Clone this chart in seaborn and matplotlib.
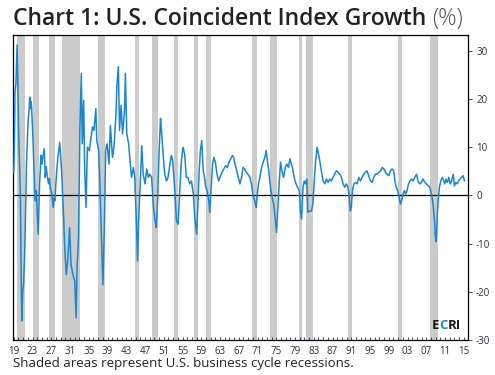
import pandas as pd
import seaborn as sns
import matplotlib.pyplot as plt

# Coincident index growth, %
years = [
    1919.0, 1919.15, 1919.25, 1919.45, 1919.7, 1919.85, 1920.05, 1920.4, 1920.55, 1920.7,
    1920.9, 1921.1, 1921.35, 1921.7, 1922.05, 1922.2, 1922.4, 1922.55, 1922.65, 1922.8,
    1923.1, 1923.4, 1923.6, 1923.8, 1924.2, 1924.5, 1924.8, 1925.0, 1925.2, 1925.5,
    1925.7, 1925.9, 1926.1, 1926.4, 1926.6, 1926.8, 1927.1, 1927.4, 1927.6, 1927.75,
    1928.1, 1928.4, 1928.8, 1929.0, 1929.2, 1929.6, 1929.9, 1930.2, 1930.5, 1930.9,
    1931.2, 1931.6, 1932.0, 1932.3, 1932.5, 1932.65, 1932.8, 1933.1, 1933.4, 1933.6,
    1933.9, 1934.1, 1934.4, 1934.7, 1935.1, 1935.4, 1935.8, 1936.1, 1936.5, 1936.7,
    1937.1, 1937.35, 1937.7, 1938.0, 1938.3, 1938.6, 1938.9, 1939.3, 1939.6, 1940.05,
    1940.4, 1940.8, 1941.0, 1941.3, 1941.55, 1941.9, 1942.2, 1942.6, 1942.8, 1943.1,
    1943.5, 1943.8, 1944.1, 1944.5, 1944.8, 1945.1, 1945.4, 1945.65, 1946.0, 1946.3,
    1946.6, 1947.0, 1947.35, 1947.7, 1948.0, 1948.4, 1948.8, 1949.15, 1949.4, 1949.7,
    1950.0, 1950.3, 1950.5, 1950.9, 1951.2, 1951.6, 1951.9, 1952.3, 1952.6, 1952.9,
    1953.35, 1953.7, 1954.05, 1954.4, 1954.75, 1955.1, 1955.45, 1955.8, 1956.15, 1956.5,
    1956.9, 1957.3, 1957.6, 1958.0, 1958.25, 1958.55, 1958.8, 1959.1, 1959.4, 1959.7,
    1959.95, 1960.25, 1960.6, 1960.8, 1961.1, 1961.4, 1961.7, 1962.0, 1962.35, 1962.7,
    1963.1, 1963.45, 1963.8, 1964.2, 1964.55, 1964.9, 1965.3, 1965.65, 1965.9, 1966.2,
    1966.55, 1966.9, 1967.25, 1967.6, 1967.9, 1968.25, 1968.6, 1968.95, 1969.35, 1969.7,
    1970.05, 1970.4, 1970.7, 1970.95, 1971.2, 1971.5, 1971.85, 1972.2, 1972.55, 1972.85,
    1973.1, 1973.4, 1973.75, 1974.1, 1974.45, 1974.75, 1975.05, 1975.3, 1975.6, 1975.9,
    1976.2, 1976.55, 1976.9, 1977.25, 1977.6, 1977.9, 1978.2, 1978.45, 1978.8, 1979.2,
    1979.55, 1979.9, 1980.15, 1980.4, 1980.7, 1980.95, 1981.2, 1981.5, 1981.75, 1982.2,
    1982.5, 1982.8, 1983.1, 1983.4, 1983.7, 1984.0, 1984.3, 1984.6, 1985.0, 1985.35,
    1985.7, 1986.05, 1986.4, 1986.75, 1987.1, 1987.45, 1987.8, 1988.2, 1988.55, 1988.9,
    1989.25, 1989.6, 1989.95, 1990.3, 1990.5, 1990.8, 1991.0, 1991.25, 1991.55, 1991.9,
    1992.25, 1992.6, 1992.95, 1993.3, 1993.65, 1994.0, 1994.35, 1994.7, 1995.1, 1995.45,
    1995.8, 1996.15, 1996.5, 1996.9, 1997.25, 1997.6, 1997.95, 1998.3, 1998.65, 1999.0,
    1999.35, 1999.7, 2000.05, 2000.35, 2000.6, 2000.9, 2001.2, 2001.5, 2001.75, 2002.05,
    2002.3, 2002.6, 2002.9, 2003.2, 2003.5, 2003.85, 2004.2, 2004.55, 2004.9, 2005.25,
    2005.6, 2005.95, 2006.3, 2006.7, 2007.05, 2007.4, 2007.75, 2008.1, 2008.45, 2008.75,
    2008.95, 2009.1, 2009.3, 2009.5, 2009.8, 2010.1, 2010.4, 2010.7, 2010.95, 2011.2,
    2011.5, 2011.8, 2012.1, 2012.4, 2012.75, 2013.0, 2013.3, 2013.6, 2013.9, 2014.2,
    2014.5, 2014.85, 2015.15,
]
growth = [
    4.8, 12, 21.5, 23, 31.2, 24, 12, 0.3, -15, -26,
    -20, -18, -11, 6.5, 15.5, 17, 20.4, 18, 19.5, 18.3,
    11.4, 3, -1.1, 1, -8, 2.4, 8.3, 6.5, 8, 9.7,
    3.75, 6, 4.4, 2.4, 3.5, 1.7, 0.3, -2.5, -0.5, -1.1,
    4.4, 7.9, 11, 8, 5.1, -3.9, -11.5, -16.4, -13.6, -6.7,
    -14.3, -16.4, -17.8, -25.4, -14.3, -12, -8.75, 13.5, 25.3, 10.7,
    19.7, 6.5, -2.5, 10, 9.3, 11.4, 14.2, 13.5, 18, 11.4,
    9.3, 3, -8.75, -18.5, -7.4, 9.3, 10.7, 6.5, 14.5, 7.9,
    10.3, 16.9, 22.8, 26.7, 13.5, 18.7, 12.8, 17.3, 25.3, 12.8,
    10.7, 7.2, 3.75, 5.8, 3.75, -3.9, -13.6, -4.6, 3, 10.3,
    4.4, 2.4, 5.5, 3.75, 4.4, 3.75, -2.5, -5.3, -6.7, -0.4,
    9.3, 16.0, 13.5, 7.9, 4.4, 3, 3.75, 6.5, 8.3, 7.2,
    1, -5.3, -6, 1, 7.2, 10, 8.6, 3.75, 3.75, 2.4,
    3, 0.3, -4.6, -8, -2.5, 5.1, 9.3, 11.4, 5.1, 3.75,
    1.7, 1, -1.1, -3.5, 1.7, 6.5, 7.9, 6.9, 4.4, 3,
    4.1, 4.8, 5.5, 6.2, 5.8, 6.9, 7.6, 8.3, 7.9, 6.5,
    5.1, 3.75, 2.4, 3.75, 5.8, 5.5, 4.8, 4.4, 3.75, 2.4,
    -0.1, -1.1, -2.5, 0.3, 2.4, 3.75, 5.8, 6.9, 7.9, 9.3,
    7.2, 5.1, 1.7, -0.4, -1.8, -4.6, -7.7, -3.2, 2.4, 6.9,
    5.1, 3.75, 5.8, 6.5, 5.8, 7.6, 6.5, 5.8, 3.75, 2.4,
    1.7, 1, -3.2, -4.9, 1.7, 3, 2.4, 3.4, -3.5, -3.2,
    -3.2, -1.8, 3, 7.2, 10, 8.6, 7, 5.1, 3, 2.4,
    3.4, 2.7, 3.4, 3, 3.75, 4.4, 5.1, 4.8, 4.4, 3.75,
    2.4, 1.7, 2.4, 1.7, 0.3, -3.2, -2.5, 1, 2.4, 2.7,
    2.4, 3.75, 3, 3.75, 4.4, 4.8, 5.1, 4.1, 3, 2.7,
    3.75, 4.4, 4.4, 4.8, 5.1, 5.8, 5.5, 4.8, 4.4, 4.1,
    5.1, 5.5, 5.1, 2.7, 1.7, 1, -0.4, -1.8, -1.1, 0.3,
    1, 0.3, 1, 2.4, 3, 3.4, 3, 3.75, 4.4, 3,
    2.4, 2.7, 3.4, 2.7, 2.4, 2, 1.7, 0.3, -1.8, -5.3,
    -8.75, -9.6, -5.3, -1.1, 1.7, 3, 3.75, 3, 2.4, 3.4,
    2.7, 3.75, 2.4, 3, 4.4, 2, 2.7, 2.4, 3, 3.4,
    3.75, 4.1, 3,
]

# business cycle recessions (start, end)
rec_start = [1919.6, 1923.05, 1926.5, 1929.2, 1936.9, 1944.8, 1948.4, 1953.1, 1957.4,
             1959.9, 1969.75, 1973.6, 1979.8, 1981.3, 1990.2, 2000.9, 2007.7]
rec_end = [1921.35, 1924.3, 1927.75, 1933.1, 1938.4, 1945.65, 1949.7, 1954.1, 1958.2,
           1961.0, 1970.8, 1975.1, 1980.4, 1982.75, 1991.1, 2001.9, 2009.4]

tick_years = [1919, 1923, 1927, 1931, 1935, 1939, 1943, 1947, 1951, 1955, 1959, 1963, 1967,
              1971, 1975, 1979, 1983, 1987, 1991, 1995, 1999, 2003, 2007, 2011, 2015]
tick_labels = ['19', '23', '27', '31', '35', '39', '43', '47', '51', '55', '59', '63', '67',
               '71', '75', '79', '83', '87', '91', '95', '99', '03', '07', '11', '15']
y_ticks = [30, 20, 10, 0, -10, -20, -30]

df = pd.DataFrame({'year': years, 'growth': growth})

sns.set_style('white')
plt.rcParams['font.family'] = ['Open Sans', 'DejaVu Sans']

fig = plt.figure(figsize=(4.95, 3.75), dpi=100)
ax = fig.add_axes([0.026, 0.093, 0.919, 0.814])

for s, e in zip(rec_start, rec_end):
    ax.axvspan(s, e, color='#cbcbcb', lw=0, zorder=0)

ax.axhline(0, color='black', lw=0.9, zorder=1)
sns.lineplot(data=df, x='year', y='growth', ax=ax, color='#1c86cc', lw=1.1, zorder=3)

ax.set_xlim(1918.8, 2015.85)
ax.set_ylim(-30, 33.3)
ax.set_xlabel('')
ax.set_ylabel('')

ax.set_xticks(tick_years)
ax.set_xticklabels(tick_labels)
ax.set_xticks(range(1919, 2016), minor=True)
ax.tick_params(axis='x', which='both', direction='in', length=2.5, width=0.6,
               labelsize=7, colors='#2e2e40', pad=4, bottom=True)

ax.yaxis.tick_right()
ax.set_yticks(y_ticks)
ax.set_yticklabels([str(v) for v in y_ticks])
ax.tick_params(axis='y', direction='out', length=3, width=0.6, labelsize=7,
               colors='#2e2e40', pad=3, right=True, left=False)

for sp in ax.spines.values():
    sp.set_color('black')
    sp.set_linewidth(0.9)

# title with lighter "(%)"
t = fig.text(0.026, 0.933, 'Chart 1: U.S. Coincident Index Growth ', fontsize=16.5,
             color='#222222', ha='left', va='baseline', fontweight='semibold')
ax.annotate('(%)', xy=(1, 0), xycoords=t, fontsize=16.5, color='#555555',
            ha='left', va='bottom', fontweight='light', annotation_clip=False)

fig.text(0.026, 0.022, 'Shaded areas represent U.S. business cycle recessions.',
         fontsize=9.5, color='#222222', ha='left', va='baseline')

# ECRI logo
e1 = ax.text(0.92, 0.035, 'E', transform=ax.transAxes, fontsize=9.5, fontweight='bold',
             color='#1a1a1a', ha='left', va='baseline')
e2 = ax.annotate('C', xy=(1, 0), xycoords=e1, fontsize=9.5, fontweight='bold',
                 color='#1c86cc', ha='left', va='bottom')
ax.annotate('RI', xy=(1, 0), xycoords=e2, fontsize=9.5, fontweight='bold',
            color='#1a1a1a', ha='left', va='bottom')

plt.savefig('out.png', dpi=100)
